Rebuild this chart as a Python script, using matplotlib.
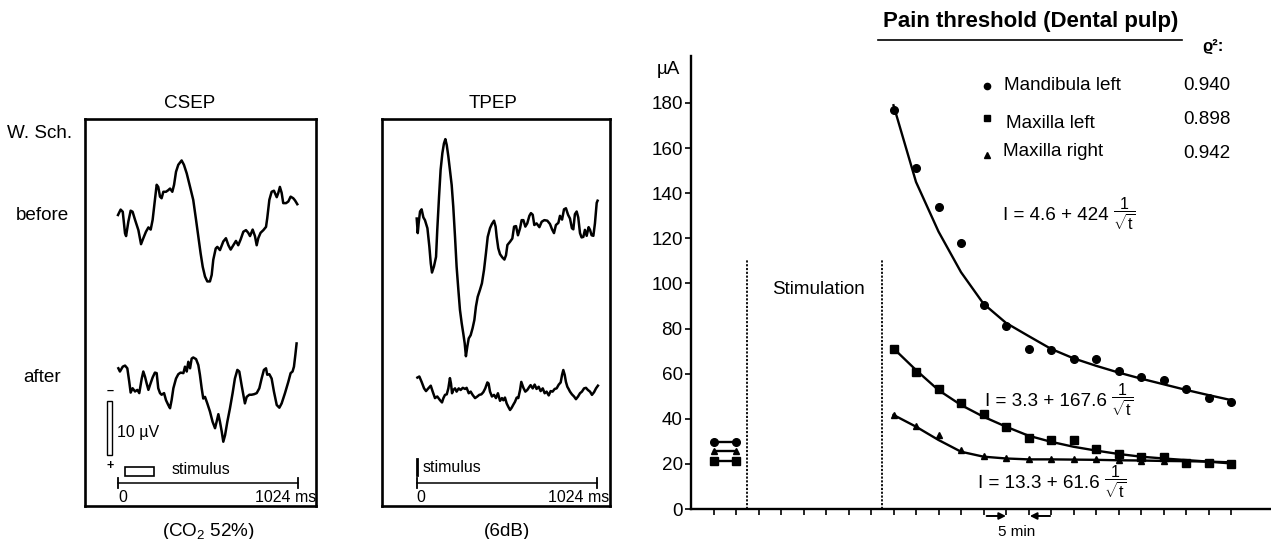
import numpy as np
import matplotlib.pyplot as plt
from matplotlib.patches import Rectangle
from matplotlib.lines import Line2D

W, H = 1271, 539
FS = 13.6

plt.rcParams['font.family'] = ['Liberation Sans', 'DejaVu Sans']
plt.rcParams['mathtext.fontset'] = 'custom'
plt.rcParams['mathtext.rm'] = 'Liberation Sans'
plt.rcParams['mathtext.it'] = 'Liberation Sans:italic'
plt.rcParams['mathtext.bf'] = 'Liberation Sans:bold'

# ---------------- evoked potentials: time (ms), amplitude (uV, negative up) ----------------
csep_before_t = [0, 15, 27, 40, 46, 59, 72, 83, 97, 116, 131, 144, 159, 173, 186, 197, 210, 220, 229, 239,
                 248, 258, 273, 286, 296, 309, 319, 330, 343, 362, 375, 391, 410, 428, 444, 457, 470, 482, 495, 508,
                 523, 533, 542, 556, 565, 580, 599, 614, 628, 641, 656, 671, 684, 698, 713, 728, 741, 751, 766, 779,
                 789, 798, 811, 827, 842, 849, 861, 874, 887, 903, 912, 921, 931, 940, 956, 969, 982, 997, 1007, 1020]
csep_before_v = [0.0, -1.0, -0.6, 3.4, 3.9, 1.2, -0.8, -0.6, 0.9, 2.8, 5.4, 4.3, 3.1, 2.3, 2.7, 0.9, -2.8, -5.6, -5.2, -3.4,
                 -3.1, -4.3, -4.3, -4.6, -4.9, -4.3, -5.6, -8.0, -9.3, -10.1, -9.3, -7.7, -5.2, -2.8, 0.9, 4.0, 7.1, 9.6, 11.4, 12.3,
                 12.3, 11.1, 8.3, 6.2, 5.9, 6.5, 4.9, 4.3, 5.6, 6.4, 5.6, 4.8, 5.6, 4.5, 3.1, 2.8, 3.3, 3.9, 2.7, 3.9,
                 5.6, 4.3, 3.3, 2.8, 2.2, 0.6, -2.8, -4.3, -4.5, -3.3, -4.1, -5.2, -4.1, -2.2, -2.2, -2.5, -3.4, -3.1, -2.7, -2.0]

csep_after_t = [2, 11, 27, 40, 53, 64, 72, 83, 97, 110, 121, 135, 144, 154, 163, 173, 182, 197, 210, 220,
                229, 239, 248, 262, 273, 286, 296, 305, 315, 330, 343, 356, 372, 381, 391, 400, 410, 419, 428, 444,
                457, 466, 476, 485, 495, 508, 523, 538, 552, 561, 571, 580, 590, 599, 609, 622, 637, 652, 665, 679,
                690, 703, 713, 722, 732, 747, 760, 774, 789, 804, 817, 830, 842, 849, 861, 874, 887, 903, 918, 931,
                950, 969, 982, 993, 1001, 1009, 1016]
csep_after_v = [-1.8, -1.2, -2.1, -2.3, -1.8, 0.7, 2.7, 1.9, 2.5, 2.2, 2.8, 0.1, -1.2, -0.2, 1.0, 2.2, 1.3, -0.1, -1.0, -0.9,
                1.9, 2.8, 3.1, 2.8, 4.1, 5.0, 5.6, 4.1, 1.9, 0.1, -0.7, -1.0, -0.9, -2.1, -1.2, -3.0, -1.8, -3.6, -3.8, -3.5,
                -2.4, -0.6, 1.9, 3.8, 3.5, 4.7, 6.2, 8.1, 9.3, 8.1, 6.7, 8.1, 9.9, 11.8, 10.6, 8.1, 5.6, 2.8, 0.1, -1.5,
                -1.2, 1.3, 3.1, 4.7, 3.5, 3.1, 3.1, 3.0, 2.8, 1.9, 0.1, -1.5, -1.8, -0.6, -0.7, 0.1, 2.5, 5.0, 5.5, 4.7,
                2.8, 0.7, -0.9, -1.2, -2.1, -4.3, -6.4]

tpep_before_t = [0, 6, 11, 19, 28, 38, 47, 61, 72, 80, 87, 98, 110, 117, 127, 136, 146, 155, 163, 171,
                 180, 189, 199, 208, 218, 227, 237, 246, 256, 265, 273, 280, 288, 296, 307, 318, 328, 337, 347, 360,
                 371, 383, 394, 404, 417, 428, 440, 449, 455, 464, 474, 487, 499, 508, 516, 531, 544, 554, 565, 576,
                 588, 597, 607, 618, 629, 641, 650, 660, 669, 682, 698, 711, 726, 743, 758, 770, 781, 792, 806, 815,
                 827, 838, 849, 861, 872, 883, 891, 900, 910, 919, 929, 938, 948, 957, 967, 978, 986, 995, 1005, 1014,
                 1024, 1029]
tpep_before_v = [-1.2, 1.5, -0.3, -2.5, -2.9, -1.4, -0.9, 0.6, 4.0, 7.1, 8.8, 7.7, 5.9, 0.9, -5.2, -10.2, -13.3, -15.1, -15.9, -14.8,
                 -12.7, -10.2, -7.4, -3.4, 2.2, 7.7, 12.0, 15.7, 18.2, 20.1, 21.9, 24.3, 22.5, 21.0, 20.4, 19.1, 17.6, 15.1, 13.3, 12.0,
                 10.8, 8.3, 5.2, 2.2, 0.6, -0.2, -0.8, 0.3, 2.2, 4.3, 5.4, 6.0, 6.4, 5.6, 3.7, 3.1, 2.5, 0.3, 0.2, 1.9,
                 0.6, -0.9, -0.9, 0.3, -0.3, -1.7, -2.2, -1.9, 0.0, -0.3, 0.4, -0.6, -0.9, -0.8, -0.2, 0.8, 1.5, 0.0, -0.4, -1.7,
                 -1.0, -2.9, -3.1, -1.9, -1.2, 0.6, 0.8, -2.0, -2.5, -1.4, 1.5, 2.3, 2.2, 0.9, 2.0, 0.4, 0.9, 1.9, 2.0, -0.3,
                 -4.1, -4.5]

tpep_after_t = [4, 15, 28, 42, 53, 66, 80, 91, 104, 117, 133, 144, 152, 161, 171, 180, 189, 195, 201, 208,
                218, 227, 239, 250, 262, 275, 284, 296, 307, 318, 332, 345, 356, 368, 379, 390, 402, 409, 417, 428,
                440, 451, 462, 474, 485, 493, 502, 512, 521, 531, 540, 550, 559, 569, 578, 588, 595, 607, 618, 629,
                641, 648, 660, 671, 682, 694, 705, 717, 728, 739, 751, 762, 773, 785, 796, 808, 819, 827, 834, 842,
                849, 857, 864, 872, 883, 895, 906, 918, 929, 940, 952, 963, 974, 986, 997, 1009, 1020, 1031]
tpep_after_v = [-2.3, -2.5, -1.5, -0.3, 0.2, -0.3, -0.8, 0.3, 1.5, 1.2, 1.9, 2.3, 1.5, 0.9, 0.8, -0.3, -2.2, -1.2, 0.6, 0.0,
                -0.3, 0.3, -0.3, 0.0, -0.4, -0.2, -0.4, 0.6, 0.3, 0.9, 1.5, 1.2, 0.9, 0.8, 0.4, -0.3, -1.4, -1.2, 0.3, 1.2,
                0.9, 1.5, 0.6, 2.0, 1.5, 1.9, 1.4, 2.5, 3.1, 3.7, 3.3, 2.7, 2.2, 1.4, 1.5, 0.0, -1.5, -0.4, 0.3, 0.0,
                -0.6, -0.9, -0.3, -1.0, -0.2, -0.6, 0.2, -0.3, 0.6, 0.3, 1.0, 0.2, 0.3, -0.2, -0.3, -1.0, -1.4, -2.8, -3.7, -2.8,
                -1.5, -0.6, -0.2, 0.3, 0.8, 1.2, 1.7, 1.2, 0.6, 0.3, -0.3, -0.4, 0.0, 0.3, 0.9, 0.4, -0.3, -0.8]

# ---------------- pain threshold (uA) vs time (min) ----------------
base_t = [5, 10]
base_mand = [29.5, 29.5]
base_maxr = [25.5, 25.5]
base_maxl = [21.2, 21.2]

post_t = [45, 50, 55, 60, 65, 70, 75, 80, 85, 90, 95, 100, 105, 110, 115, 120]
mand = [177, 151, 134, 118, 90.5, 81, 71, 70.5, 66.7, 66.7, 61, 58.7, 57, 53, 49, 47.3]
maxl = [70.9, 60.6, 53.0, 47.1, 41.9, 36.5, 31.6, 30.6, 30.6, 26.6, 24.4, 23.2, 22.9, 20.5, 20.2, 19.9]
maxr = [41.7, 36.9, 32.6, 26.2, 23.6, 22.5, 22.2, 22.2, 22.0, 22.0, 21.7, 21.4, 21.3, 21.0, 21.0, 20.5]

# fitted curves as drawn
mand_fit = [179, 145, 123, 105, 91, 82.5, 76.7, 71, 66.8, 63.5, 60.5, 57.8, 55.3, 52.8, 50.5, 48.3]
maxl_fit = [71.2, 61.6, 52.7, 46.1, 40.9, 36.5, 32.5, 29.8, 27.6, 25.9, 24.4, 23.2, 22.4, 21.7, 21.0, 20.2]
maxr_fit = [41.7, 36.5, 30.6, 25.4, 23.2, 22.4, 22.0, 22.0, 21.9, 21.8, 21.6, 21.5, 21.3, 21.2, 21.0, 20.7]

labels = ['Mandibula left', 'Maxilla left', 'Maxilla right']
r2 = ['0.940', '0.898', '0.942']
fits = [('4.6', '424'), ('3.3', '167.6'), ('13.3', '61.6')]

fig = plt.figure(figsize=(W / 100, H / 100), dpi=100)


def fx(x):
    return x / W


def fy(y):
    return 1 - y / H


PX_MS = 180 / 1024
PX_UV = 5.4


def potential_panel(box, t0, title, title_x, note, note_x, traces, end_x):
    x0, y0, x1, y1 = box
    ax = fig.add_axes([fx(x0), fy(y1), (x1 - x0) / W, (y1 - y0) / H])
    ms = lambda x: (x - t0) / PX_MS
    uv = lambda y: (y - y0) / PX_UV
    ax.set_xlim(ms(x0), ms(x1))
    ax.set_ylim(uv(y1), 0)
    ax.set_xticks([])
    ax.set_yticks([])
    for s in ax.spines.values():
        s.set_linewidth(1.9)
    for t, v, base in traces:
        ax.plot(t, uv(base) + np.array(v), color='k', lw=1.8, solid_joinstyle='round')
    # time axis
    ax.plot([0, 1024], [uv(483), uv(483)], color='k', lw=1.1)
    for tt in (0, 1024):
        ax.plot([tt, tt], [uv(478), uv(488)], color='k', lw=1.3)
    ax.text(0, uv(497), '0', ha='left', va='center', fontsize=11.5)
    ax.text(ms(end_x), uv(497), '1024 ms', ha='right', va='center', fontsize=11.5)
    fig.text(fx(title_x), fy(103), title, ha='center', va='center', fontsize=FS)
    fig.text(fx(note_x), fy(531), note, ha='center', va='center', fontsize=FS)
    return ax, ms, uv


ax1, ms1, uv1 = potential_panel((85, 119, 316, 506), 118, 'CSEP', 190, '(CO$_2$ 52%)', 208,
                                [(csep_before_t, csep_before_v, 215), (csep_after_t, csep_after_v, 378)], 316)
ax1.add_patch(Rectangle((ms1(107), uv1(401)), ms1(112) - ms1(107), uv1(455) - uv1(401),
                        fill=False, lw=1.0, ec='k'))
ax1.text(ms1(110), uv1(391), '–', ha='center', va='center', fontsize=9, weight='bold')
ax1.text(ms1(110), uv1(466), '+', ha='center', va='center', fontsize=9, weight='bold')
ax1.text(ms1(117), uv1(432), '10 µV', ha='left', va='center', fontsize=11.5)
ax1.add_patch(Rectangle((ms1(125), uv1(467)), ms1(154) - ms1(125), uv1(476) - uv1(467),
                        fill=False, lw=1.2, ec='k'))
ax1.text(ms1(172), uv1(469), 'stimulus', ha='left', va='center', fontsize=11.5)

ax2, ms2, uv2 = potential_panel((381.7, 119, 610, 506), 416.7, 'TPEP', 493, '(6dB)', 507,
                                [(tpep_before_t, tpep_before_v, 225), (tpep_after_t, tpep_after_v, 390)], 609)
ax2.plot([0, 0], [uv2(459), uv2(475)], color='k', lw=2)
ax2.text(ms2(423), uv2(467), 'stimulus', ha='left', va='center', fontsize=11.5)

fig.text(fx(7), fy(133), 'W. Sch.', ha='left', va='center', fontsize=FS)
fig.text(fx(42), fy(215), 'before', ha='center', va='center', fontsize=FS)
fig.text(fx(42), fy(378), 'after', ha='center', va='center', fontsize=FS)

# ---------------- pain threshold chart ----------------
PX_MIN = 22.5 / 5       # px per minute
PX_UA = 2.2556          # px per uA
ax = fig.add_axes([fx(691), fy(509), (W - 691) / W, (509 - 56) / H])
ax.set_xlim(0, (W - 691) / PX_MIN)
ax.set_ylim(0, (509 - 56) / PX_UA)
for s in ('top', 'right'):
    ax.spines[s].set_visible(False)
for s in ('left', 'bottom'):
    ax.spines[s].set_linewidth(1.7)
ax.set_xticks(np.arange(5, 121, 5))
ax.set_xticklabels([])
ax.set_yticks(np.arange(0, 181, 20))
ax.tick_params(axis='x', length=4, width=1.2, direction='out')
ax.tick_params(axis='y', length=4, width=1.2, direction='out', labelsize=FS, pad=2)

for x in (12.5, 42.5):
    ax.plot([x, x], [0, 110.5], color='k', lw=1.3, linestyle=(0, (1.2, 0.9)))

ax.plot(base_t, base_mand, color='k', lw=1.7, marker='o', ms=5.5)
ax.plot(base_t, base_maxr, color='k', lw=1.7, marker='^', ms=5)
ax.plot(base_t, base_maxl, color='k', lw=1.7, marker='s', ms=5.5)

ax.plot(post_t, mand_fit, color='k', lw=1.7)
ax.plot(post_t, maxl_fit, color='k', lw=1.7)
ax.plot(post_t, maxr_fit, color='k', lw=1.7)
ax.plot(post_t, mand, 'o', color='k', ms=5.5)
ax.plot(post_t, maxl, 's', color='k', ms=5.5)
ax.plot(post_t, maxr, '^', color='k', ms=4.5)

arrow = dict(arrowstyle='-|>', color='k', lw=1.4, mutation_scale=10, shrinkA=0, shrinkB=0)
ax.annotate('', xy=(70, -3.1), xytext=(65.7, -3.1), annotation_clip=False, arrowprops=arrow)
ax.annotate('', xy=(75.3, -3.1), xytext=(79.8, -3.1), annotation_clip=False, arrowprops=arrow)
fig.text(fx(1017), fy(532), '5 min', ha='center', va='center', fontsize=11)

fig.text(fx(657), fy(70), 'µA', ha='left', va='center', fontsize=FS)
fig.text(fx(772), fy(289), 'Stimulation', ha='left', va='center', fontsize=FS)

fig.text(fx(1031), fy(21), 'Pain threshold (Dental pulp)', ha='center', va='center',
         fontsize=16, weight='bold')
fig.add_artist(Line2D([fx(878), fx(1182)], [fy(40), fy(40)], color='k', lw=1.2))
fig.text(fx(1213), fy(47), 'ϱ²:', ha='center', va='center', fontsize=12, weight='bold')

legend_rows = [('o', 4.5, 86, 1004, 86, 86), ('s', 4.5, 118, 1006, 123, 119), ('^', 4, 155, 1003, 152, 153)]
for (mk, msz, my, tx, ty, vy), lab, val in zip(legend_rows, labels, r2):
    fig.add_artist(Line2D([fx(987)], [fy(my)], marker=mk, ms=msz, color='k', linestyle='none'))
    fig.text(fx(tx), fy(ty), lab, ha='left', va='center', fontsize=FS)
    fig.text(fx(1183), fy(vy), val, ha='left', va='center', fontsize=FS)

# fit equations: text, then the 1/sqrt(t) fraction right after it
for (a, b), (tx, base) in zip(fits, [(1003, 220), (985, 406), (978, 488)]):
    main = fig.text(fx(tx), fy(base), 'I = %s + %s' % (a, b), ha='left', va='baseline', fontsize=FS)
    ax.annotate(r'$\dfrac{1}{\sqrt{\mathrm{t}}}$', xy=(1.0, 0.58), xycoords=main,
                xytext=(3, 0), textcoords='offset points', ha='left', va='center',
                fontsize=11.5, annotation_clip=False)

fig.savefig('out.png', dpi=100)
